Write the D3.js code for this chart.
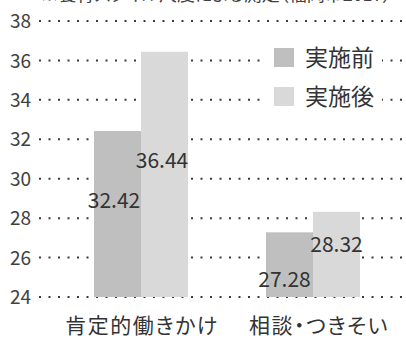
<!DOCTYPE html>
<html>
<head>
<meta charset="utf-8">
<script src="https://cdn.jsdelivr.net/npm/d3@7"></script>
<style>
  html, body { margin: 0; padding: 0; background: #fff; }
  svg { display: block; }
  text { font-family: "Noto Sans CJK JP", "Noto Sans", sans-serif; font-feature-settings: "palt"; }
</style>
</head>
<body>
<svg id="chart" width="406" height="338"></svg>
<script>
// Data
const categories = ["肯定的働きかけ", "相談・つきそい"];
const seriesNames = ["実施前", "実施後"];
const beforeValues = [32.42, 27.28];
const afterValues = [36.44, 28.32];
const yTicks = [24, 26, 28, 30, 32, 34, 36, 38];
const titleText = "※養育スタイル尺度による測定（福岡市2017）";

const colors = { "実施前": "#bfbfbf", "実施後": "#d9d9d9" };
const textColor = "#404040";

const svg = d3.select("#chart");
const W = 406, H = 338;

const y = d3.scaleLinear().domain([24, 38]).range([297, 21]);
const x0 = d3.scaleBand().domain(categories).range([55, 399]).padding(0);
const x1 = d3.scaleBand().domain(seriesNames).range([-47, 47]).padding(0);

// Title (sits mostly above the top edge)
svg.append("text")
  .attr("x", 216).attr("y", 1)
  .attr("text-anchor", "middle")
  .attr("font-size", 18)
  .attr("fill", textColor)
  .text(titleText);

// Dotted gridlines
svg.append("g").selectAll("line")
  .data(yTicks)
  .join("line")
  .attr("x1", 39).attr("x2", W)
  .attr("y1", d => y(d)).attr("y2", d => y(d))
  .attr("stroke", "#3a3a3a")
  .attr("stroke-width", 2)
  .attr("stroke-dasharray", "2 7.5");

// Y axis tick labels
const yAxis = d3.axisLeft(y).tickValues(yTicks).tickSize(0).tickPadding(0);
const gy = svg.append("g").attr("transform", "translate(31,0)").call(yAxis);
gy.select(".domain").remove();
gy.selectAll("text")
  .attr("font-size", 19)
  .attr("fill", textColor)
  .attr("dy", "0.35em")
  .style("font-family", "'Noto Sans CJK JP', sans-serif");

// Bars
const rows = categories.map((c, i) => ({
  category: c,
  values: [
    { series: seriesNames[0], value: beforeValues[i] },
    { series: seriesNames[1], value: afterValues[i] }
  ]
}));

const groups = svg.append("g").selectAll("g")
  .data(rows)
  .join("g")
  .attr("transform", d => `translate(${x0(d.category) + x0.bandwidth() / 2},0)`);

groups.selectAll("rect")
  .data(d => d.values)
  .join("rect")
  .attr("x", d => x1(d.series))
  .attr("width", x1.bandwidth())
  .attr("y", d => y(d.value))
  .attr("height", d => y(24) - y(d.value))
  .attr("fill", d => colors[d.series]);

// Value labels, nudged inside each bar
const nudge = {
  "肯定的働きかけ|実施前": [-3.5, -13],
  "肯定的働きかけ|実施後": [-2.5, -14],
  "相談・つきそい|実施前": [-5, 15],
  "相談・つきそい|実施後": [0, -10]
};
groups.selectAll("text.val")
  .data(d => d.values.map(v => ({ ...v, category: d.category })))
  .join("text")
  .attr("class", "val")
  .attr("x", d => x1(d.series) + x1.bandwidth() / 2 + nudge[d.category + "|" + d.series][0])
  .attr("y", d => (y(d.value) + y(24)) / 2 + nudge[d.category + "|" + d.series][1])
  .attr("dy", "0.35em")
  .attr("text-anchor", "middle")
  .attr("font-size", 21)
  .attr("fill", "#333")
  .text(d => d.value.toFixed(2));

// Category labels
svg.append("g").selectAll("text")
  .data(categories)
  .join("text")
  .attr("x", (d, i) => x0(d) + x0.bandwidth() / 2 + (i === 0 ? 1 : 6))
  .attr("y", 326)
  .attr("dy", "0.35em")
  .attr("text-anchor", "middle")
  .attr("font-size", 21)
  .attr("letter-spacing", 1.5)
  .attr("fill", "#333")
  .text(d => d);

// Legend
const legend = svg.append("g");
legend.append("rect")
  .attr("x", 267).attr("y", 40).attr("width", 115).attr("height", 72)
  .attr("fill", "#fff");
const items = legend.selectAll("g")
  .data(seriesNames)
  .join("g")
  .attr("transform", (d, i) => `translate(274,${48 + i * 39})`);
items.append("rect")
  .attr("width", 20).attr("height", 19)
  .attr("fill", d => colors[d]);
items.append("text")
  .attr("x", 31).attr("y", 10)
  .attr("dy", "0.35em")
  .attr("font-size", 23)
  .attr("fill", "#333")
  .text(d => d);
</script>
</body>
</html>
